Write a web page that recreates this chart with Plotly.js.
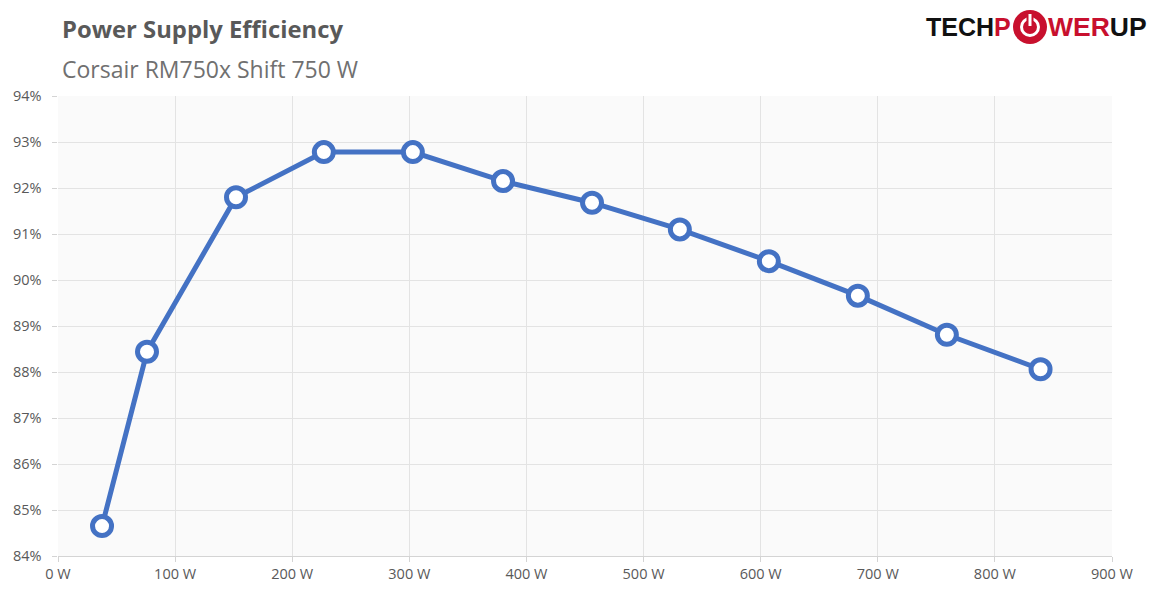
<!DOCTYPE html>
<html><head><meta charset="utf-8">
<script src="https://cdn.plot.ly/plotly-3.0.1.min.js"></script>
<style>html,body{margin:0;padding:0;background:#fff}#chart{width:1151px;height:600px}</style>
</head><body><div id="chart"></div>
<script>
const loadWatts = [37.6, 76, 152, 227, 303, 380, 456, 531, 607, 683, 759, 839];
const efficiency = [84.65, 88.44, 91.80, 92.78, 92.78, 92.15, 91.68, 91.10, 90.41, 89.66, 88.81, 88.06];
const titleText = "Power Supply Efficiency";
const subtitleText = "Corsair RM750x Shift 750 W";

const W = 1151, H = 600;
const m = {l: 58, r: 39, t: 96, b: 44};
const pw = W - m.l - m.r, ph = H - m.t - m.b;
const px = x => (x - m.l) / pw;
const py = y => (H - m.b - y) / ph;

const trace = {
  x: loadWatts, y: efficiency, type: 'scatter', mode: 'lines+markers',
  line: {color: '#4472C4', width: 5},
  marker: {symbol: 'circle', size: 19, color: '#ffffff', line: {color: '#4472C4', width: 5}},
  hoverinfo: 'skip', cliponaxis: false
};

const red = '#C8102E';
const tickFont = {family: 'Open Sans, sans-serif', size: 14.5, color: '#595959'};
const layout = {
  width: W, height: H, margin: m,
  paper_bgcolor: '#ffffff', plot_bgcolor: '#fafafa',
  showlegend: false,
  xaxis: {
    range: [0, 900], dtick: 100, tick0: 0, ticksuffix: ' W',
    showgrid: true, gridcolor: '#e3e3e3', gridwidth: 1,
    zeroline: false, showline: true, linecolor: '#d4d4d4', linewidth: 1,
    ticks: 'outside', ticklen: 5, tickcolor: '#d4d4d4',
    tickfont: tickFont
  },
  yaxis: {
    range: [84, 94], dtick: 1, tick0: 84, ticksuffix: '%\u00a0\u00a0',
    showgrid: true, gridcolor: '#e3e3e3', gridwidth: 1,
    zeroline: false, showline: false,
    ticks: 'outside', ticklen: 5, tickcolor: '#d4d4d4',
    tickfont: tickFont
  },
  annotations: [
    {text: '<b>' + titleText + '</b>', xref: 'paper', yref: 'paper', x: px(60), y: py(29),
     xanchor: 'left', yanchor: 'middle', showarrow: false,
     font: {family: 'Open Sans, sans-serif', size: 23.8, color: '#595959'}},
    {text: subtitleText, xref: 'paper', yref: 'paper', x: px(60), y: py(69),
     xanchor: 'left', yanchor: 'middle', showarrow: false,
     font: {family: 'Open Sans, sans-serif', size: 23, color: '#707070'}},
    {text: '<b><span style="color:#111">TECH</span><span style="color:' + red + '">P</span></b>',
     xref: 'paper', yref: 'paper', x: px(1013), y: py(27), xanchor: 'right', yanchor: 'middle',
     showarrow: false, font: {family: 'Liberation Sans, Arial, sans-serif', size: 25}},
    {text: '<b><span style="color:' + red + '">WER</span><span style="color:#111">UP</span></b>',
     xref: 'paper', yref: 'paper', x: px(1046), y: py(27), xanchor: 'left', yanchor: 'middle',
     showarrow: false, font: {family: 'Liberation Sans, Arial, sans-serif', size: 26.5}}
  ],
  shapes: [
    {type: 'circle', xref: 'paper', yref: 'paper', x0: px(1013), x1: px(1047), y0: py(44), y1: py(10),
     fillcolor: red, line: {width: 0}},
    {type: 'circle', xref: 'paper', yref: 'paper', x0: px(1021.5), x1: px(1038.5), y0: py(35.5), y1: py(18.5),
     fillcolor: 'rgba(0,0,0,0)', line: {color: '#ffffff', width: 3}},
    {type: 'line', xref: 'paper', yref: 'paper', x0: px(1030), x1: px(1030), y0: py(13), y1: py(26),
     line: {color: red, width: 7}},
    {type: 'line', xref: 'paper', yref: 'paper', x0: px(1030), x1: px(1030), y0: py(14), y1: py(26),
     line: {color: '#ffffff', width: 3}}
  ]
};

Plotly.newPlot('chart', [trace], layout, {staticPlot: true, displayModeBar: false});
</script></body></html>
